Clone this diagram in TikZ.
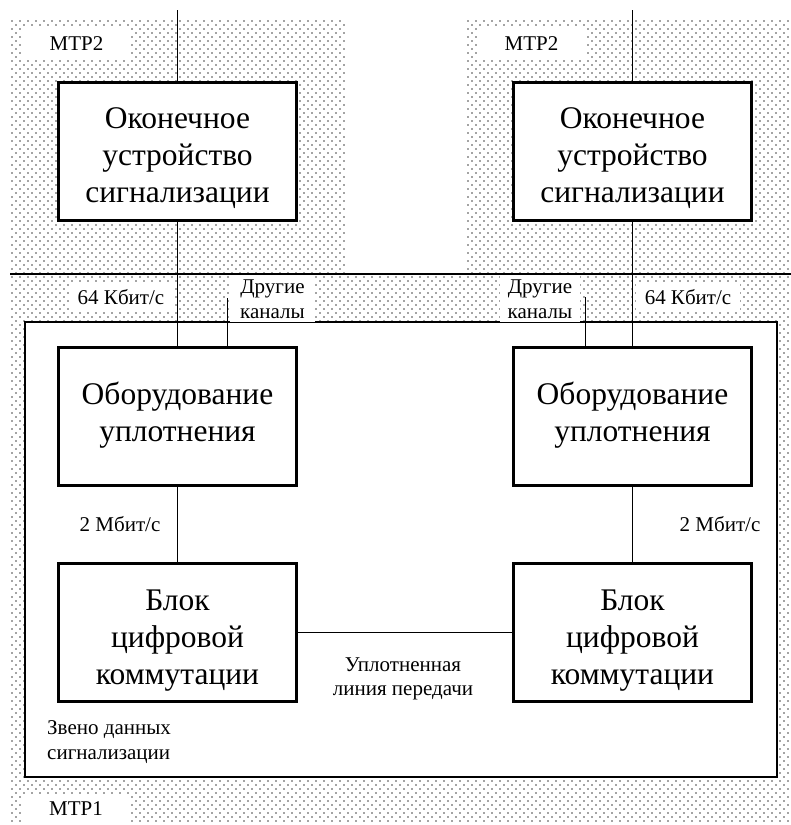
\documentclass[tikz,border=0pt]{standalone}
\usepackage{fontspec}
\setmainfont{Liberation Serif}
\usetikzlibrary{patterns}
% staggered grey dot raster used for the MTP areas
\pgfdeclarepatternformonly{sparsedots}{\pgfqpoint{-1.5pt}{-1.5pt}}{\pgfqpoint{5.5pt}{5.5pt}}{\pgfqpoint{8pt}{8pt}}{%
  \pgfpathcircle{\pgfqpoint{0pt}{0pt}}{0.95pt}%
  \pgfpathcircle{\pgfqpoint{4pt}{4pt}}{0.95pt}%
  \pgfusepath{fill}}
\begin{document}
\begin{tikzpicture}[x=1pt,y=-1pt,
  dotarea/.style={pattern=sparsedots, pattern color=black!72},
  unit/.style={draw, line width=2.8pt, fill=white, minimum width=238pt,
    minimum height=138pt, inner sep=0pt},
  unittext/.style={align=center, inner sep=0pt,
    font=\fontsize{31.5}{37}\selectfont},
  tag/.style={fill=white, inner sep=0pt, align=center,
    font=\fontsize{21}{24.5}\selectfont},
  note/.style={inner sep=0pt, align=center,
    font=\fontsize{21}{24.5}\selectfont},
  wire/.style={line width=1pt}]
\useasboundingbox (0,0) rectangle (791,825);
\fill[white] (0,0) rectangle (791,825);

% MTP level 2 and level 1 areas
\fill[dotarea] (10,20) rectangle (346,274);
\fill[dotarea] (466,20) rectangle (790,274);
\fill[dotarea] (10,274) rectangle (790,823);

% signalling data link frame
\node[draw, line width=1.2pt, fill=white, minimum width=752pt,
  minimum height=455pt, inner sep=0pt] (link) at (401,549.5) {};

% level labels
\node[tag, minimum width=107pt, minimum height=32pt] (mtpTL) at (76.5,44) {MTP2};
\node[tag, minimum width=107pt, minimum height=32pt] (mtpTR) at (531.5,44) {MTP2};
\node[tag, minimum width=106pt, minimum height=27pt] (mtpB) at (76,808.5) {MTP1};

% channel labels on the level boundary
\node[tag, minimum width=105pt, minimum height=28pt] (rateL) at (121,297) {64 Кбит/с};
\node[tag, minimum width=104pt, minimum height=28pt] (rateR) at (688,297) {64 Кбит/с};
\node[tag, minimum width=85pt, minimum height=46pt] (othL) at (272.5,299) {Другие\\каналы};
\node[tag, minimum width=80pt, minimum height=46pt] (othR) at (540,299) {Другие\\каналы};

% functional blocks
\node[unit] (tl) at (177.5,151.5) {};
\node[unit] (tr) at (632.5,151.5) {};
\node[unit] (ml) at (177.5,416.5) {};
\node[unit] (mr) at (632.5,416.5) {};
\node[unit] (bl) at (177.5,632.5) {};
\node[unit] (br) at (632.5,632.5) {};
\node[unittext] (tlT) at ([yshift=-7pt]tl.center) {Оконечное\\устройство\\сигнализации};
\node[unittext] (trT) at ([yshift=-7pt]tr.center) {Оконечное\\устройство\\сигнализации};
\node[unittext] (mlT) at ([yshift=1pt]ml.center) {Оборудование\\уплотнения};
\node[unittext] (mrT) at ([yshift=1pt]mr.center) {Оборудование\\уплотнения};
\node[unittext] (blT) at ([yshift=-8pt]bl.center) {Блок\\цифровой\\коммутации};
\node[unittext] (brT) at ([yshift=-8pt]br.center) {Блок\\цифровой\\коммутации};

% free text
\node[note] (mbL) at (120,524) {2 Мбит/с};
\node[note] (mbR) at (720,524) {2 Мбит/с};
\node[note] (trunk) at (403,679) {Уплотненная\\линия передачи};
\node[note, align=left, anchor=west] (sdl) at (47,742) {Звено данных\\сигнализации};

% level boundary
\coordinate (sepW) at (10,274);
\coordinate (sepE) at (791,274);
\draw[line width=2.5pt] (sepW) -- (sepE);

% connections
\coordinate (inL) at (177.5,10);
\coordinate (inR) at (632.5,10);
\coordinate (otherL) at (227,298);
\coordinate (otherR) at (585,297);
\draw[wire] (inL) -- (tl.north);
\draw[wire] (inR) -- (tr.north);
\draw[wire] (tl.south) -- (ml.north);
\draw[wire] (tr.south) -- (mr.north);
\draw[wire] (otherL) -- (otherL |- ml.north);
\draw[wire] (otherR) -- (otherR |- mr.north);
\draw[wire] (ml.south) -- (bl.north);
\draw[wire] (mr.south) -- (br.north);
\draw[wire] (bl.east) -- (br.west);
\end{tikzpicture}
\end{document}
